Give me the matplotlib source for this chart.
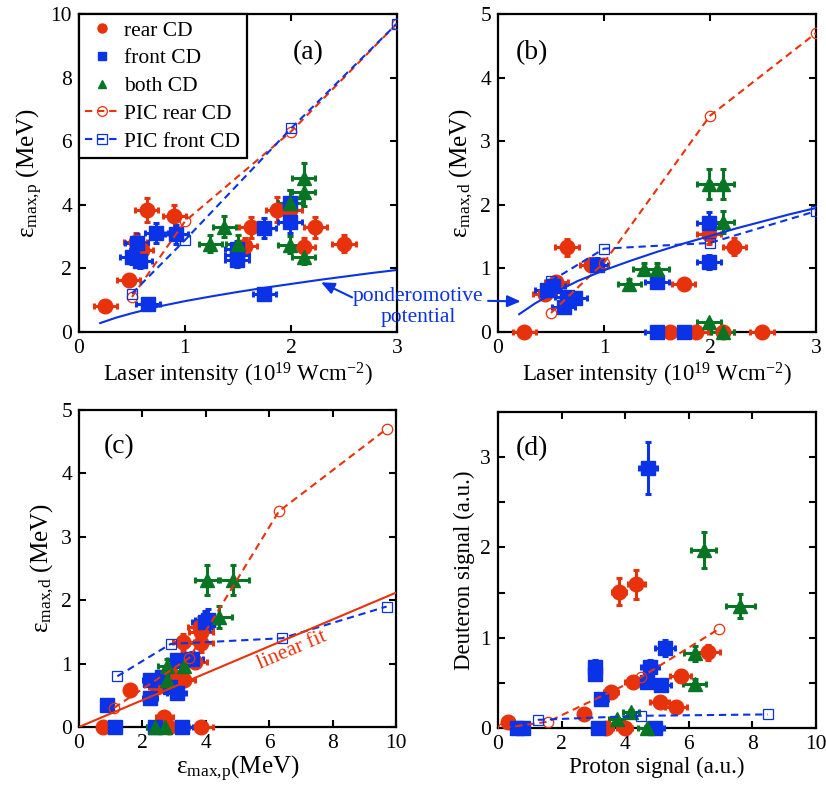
import matplotlib.pyplot as plt
from matplotlib.lines import Line2D
import numpy as np

plt.rcParams['font.family'] = ['Liberation Serif', 'DejaVu Serif']
plt.rcParams['mathtext.fontset'] = 'custom'
plt.rcParams['mathtext.rm'] = 'Liberation Serif'
plt.rcParams['mathtext.it'] = 'Liberation Serif:italic'

RED = '#e8320c'
BLUE = '#0a32e6'
GREEN = '#087525'

# (a) laser intensity vs max proton energy
rear_a_x = [0.25, 0.47, 0.535, 0.59, 0.64, 0.90, 1.57, 1.62, 1.87, 1.99, 2.12, 2.23, 2.50]
rear_a_y = [0.82, 1.63, 2.83, 2.57, 3.83, 3.64, 2.70, 3.29, 3.85, 3.85, 2.68, 3.29, 2.78]
front_a_x = [0.50, 0.545, 0.576, 0.65, 0.73, 0.92, 1.49, 1.49, 1.49, 1.75, 1.75, 1.99, 1.99]
front_a_y = [2.36, 2.80, 2.24, 0.89, 3.12, 3.07, 2.60, 2.42, 2.26, 3.27, 1.18, 4.06, 3.46]
both_a_x = [1.24, 1.37, 1.50, 1.99, 1.99, 2.12, 2.12, 2.12]
both_a_y = [2.78, 3.31, 2.78, 4.06, 2.75, 4.83, 4.41, 2.36]

# (b) laser intensity vs max deuteron energy
rear_b_x = [0.25, 0.44, 0.55, 0.65, 0.88, 1.62, 1.75, 1.87, 1.99, 2.12, 2.23, 2.49]
rear_b_y = [0.0, 0.60, 0.79, 1.33, 1.06, 0.0, 0.75, 0.0, 1.54, 0.0, 1.34, 0.0]
front_b_x = [0.46, 0.52, 0.62, 0.65, 0.73, 0.93, 1.50, 1.50, 1.75, 1.99, 1.99]
front_b_y = [0.66, 0.73, 0.39, 0.55, 0.53, 1.06, 0.79, 0.0, 0.0, 1.71, 1.10]
both_b_x = [1.24, 1.38, 1.50, 1.99, 2.12, 2.12, 1.99, 2.12]
both_b_y = [0.76, 0.99, 0.99, 2.33, 2.33, 1.73, 0.16, 0.0]

# (c) max proton energy vs max deuteron energy
rear_c_x = [0.77, 1.61, 2.45, 2.69, 2.84, 2.93, 3.29, 3.32, 3.66, 3.85, 3.85, 3.85, 3.83]
rear_c_y = [0.0, 0.58, 0.63, 0.15, 0.0, 0.82, 1.34, 0.74, 1.03, 1.32, 1.50, 0.0, 1.58]
front_c_x = [0.87, 1.14, 2.24, 2.24, 2.40, 2.61, 2.87, 3.08, 3.08, 3.26, 3.55, 3.97, 4.08]
front_c_y = [0.34, 0.0, 0.74, 0.46, 0.0, 0.79, 0.63, 1.05, 0.53, 0.0, 1.07, 1.66, 1.69]
both_c_x = [2.40, 2.71, 2.77, 2.77, 3.32, 4.05, 4.87, 4.40]
both_c_y = [0.0, 0.0, 0.74, 0.97, 0.97, 2.32, 2.32, 1.74]

# (d) proton signal vs deuteron signal
rear_d_x = [0.32, 2.71, 3.40, 3.55, 3.80, 3.99, 4.25, 4.35, 5.08, 5.60, 5.74, 6.60]
rear_d_y = [0.07, 0.16, 0.0, 0.40, 1.51, 0.0, 0.51, 1.59, 0.29, 0.23, 0.58, 0.84]
front_d_x = [0.59, 0.80, 3.04, 3.04, 3.15, 3.25, 4.69, 4.71, 4.77, 4.93, 5.13, 5.26]
front_d_y = [0.0, 0.0, 0.68, 0.60, 0.0, 0.32, 0.51, 2.88, 0.68, 0.0, 0.48, 0.89]
both_d_x = [3.73, 4.18, 4.70, 6.18, 6.21, 6.47, 7.62]
both_d_y = [0.10, 0.18, 0.0, 0.49, 0.83, 1.97, 1.35]

# PIC simulations
pic_I = [0.5, 1.0, 2.0, 3.0]
pic_rear_p = [1.10, 3.48, 6.30, 9.70]
pic_front_p = [1.21, 2.89, 6.40, 9.70]
pic_rear_d = [0.30, 1.09, 3.40, 4.70]
pic_front_d = [0.80, 1.31, 1.40, 1.90]
pic_rear_sig_x = [0.17, 1.58, 4.49, 6.96]
pic_rear_sig_y = [0.0, 0.07, 0.56, 1.10]
pic_front_sig_x = [1.25, 4.49, 8.48]
pic_front_sig_y = [0.09, 0.135, 0.15]

# ponderomotive potential
pond_I = [0.2, 0.35, 0.5, 0.75, 1.0, 1.25, 1.5, 1.75, 2.0, 2.25, 2.5, 2.75, 3.0]
pond_E = [0.28, 0.45, 0.59, 0.80, 0.97, 1.12, 1.26, 1.39, 1.51, 1.63, 1.74, 1.85, 1.95]

# linear fit in (c)
fit_x = [0.0, 10.0]
fit_y = [0.0, 2.12]

fig = plt.figure(figsize=(8.26, 7.99), dpi=100)
axa = fig.add_axes([0.0956, 0.5845, 0.385, 0.398])
axb = fig.add_axes([0.6029, 0.5845, 0.385, 0.398])
axc = fig.add_axes([0.0956, 0.0901, 0.384, 0.3968])
axd = fig.add_axes([0.6029, 0.0889, 0.385, 0.3955])

MS = 10.5


def data(ax, x, y, color, marker, xe, ye, relx=False):
    x = np.array(x)
    y = np.array(y)
    xerr = xe * x if relx else np.full(len(x), xe)
    ax.errorbar(x, y, xerr=xerr, yerr=ye * y, fmt=marker, color=color, ms=MS,
                elinewidth=2.2, capsize=2.5, capthick=2.2, clip_on=False, zorder=3)


def pic(ax, x, y, color, marker):
    ax.plot(x, y, ls='--', dashes=(3.5, 2.3), lw=1.5, color=color, marker=marker,
            ms=7.5, mfc='none', mew=0.9, zorder=4)


def style(ax):
    ax.tick_params(direction='in', top=True, right=True, length=5, width=1.5,
                   labelsize=15.5, pad=5)
    for s in ax.spines.values():
        s.set_linewidth(1.6)


eps_p = 'ε$_{\\mathrm{max{,}p}}$'
eps_d = 'ε$_{\\mathrm{max{,}d}}$'
xlab_I = 'Laser intensity (10$^{19}$ Wcm$^{-2}$)'
arrow = dict(arrowstyle='-|>,head_length=0.8,head_width=0.35', color=BLUE, lw=1.5)

# (a)
data(axa, rear_a_x, rear_a_y, RED, 'o', 0.11, 0.1)
data(axa, front_a_x, front_a_y, BLUE, 's', 0.11, 0.1)
data(axa, both_a_x, both_a_y, GREEN, '^', 0.11, 0.1)
pic(axa, pic_I, pic_rear_p, RED, 'o')
pic(axa, pic_I, pic_front_p, BLUE, 's')
axa.plot(pond_I, pond_E, color=BLUE, lw=1.5, zorder=2)
axa.set_xlim(0, 3)
axa.set_ylim(0, 10)
axa.set_xticks([0, 1, 2, 3])
axa.set_yticks([0, 2, 4, 6, 8, 10])
axa.set_xlabel(xlab_I, fontsize=16.5, labelpad=2)
axa.set_ylabel(eps_p + ' (MeV)', fontsize=18, labelpad=4)
axa.text(0.72, 0.88, '(a)', transform=axa.transAxes, fontsize=20, ha='center', va='center')
axa.annotate('', xy=(2.26, 1.6), xytext=(2.6, 1.05), arrowprops=arrow,
             annotation_clip=False)

handles = [
    Line2D([], [], ls='none', marker='o', color=RED, ms=6.5),
    Line2D([], [], ls='none', marker='s', color=BLUE, ms=6),
    Line2D([], [], ls='none', marker='^', color=GREEN, ms=6),
    Line2D([], [], ls='--', dashes=(3.5, 2.3), lw=1.5, color=RED, marker='o',
           ms=7, mfc='none', mew=0.9),
    Line2D([], [], ls='--', dashes=(3.5, 2.3), lw=1.5, color=BLUE, marker='s',
           ms=7, mfc='none', mew=0.9),
]
labels = ['rear CD', 'front CD', 'both CD', 'PIC rear CD', 'PIC front CD']
leg = axa.legend(handles, labels, loc='upper left', fontsize=15.5,
                 frameon=True, fancybox=False, edgecolor='black', handlelength=1.5,
                 handletextpad=0.3, labelspacing=0.36, borderpad=0.3, borderaxespad=0)
leg.get_frame().set_linewidth(1.6)
leg.get_frame().set_alpha(1)
style(axa)

# (b)
data(axb, rear_b_x, rear_b_y, RED, 'o', 0.11, 0.1)
data(axb, front_b_x, front_b_y, BLUE, 's', 0.11, 0.1)
data(axb, both_b_x, both_b_y, GREEN, '^', 0.11, 0.1)
pic(axb, pic_I, pic_rear_d, RED, 'o')
pic(axb, pic_I, pic_front_d, BLUE, 's')
axb.plot(pond_I, pond_E, color=BLUE, lw=1.5, zorder=5)
axb.set_xlim(0, 3)
axb.set_ylim(0, 5)
axb.set_xticks([0, 1, 2, 3])
axb.set_yticks([0, 1, 2, 3, 4, 5])
axb.set_xlabel(xlab_I, fontsize=16.5, labelpad=2)
axb.set_ylabel(eps_d + ' (MeV)', fontsize=18, labelpad=4)
axb.text(0.107, 0.88, '(b)', transform=axb.transAxes, fontsize=20, ha='center', va='center')
axb.annotate('', xy=(0.24, 0.48), xytext=(-0.12, 0.49), arrowprops=arrow,
             annotation_clip=False)
style(axb)

fig.text(0.506, 0.616, 'ponderomotive\npotential', color=BLUE, fontsize=15.5,
         ha='center', va='center', linespacing=1.15)

# (c)
data(axc, rear_c_x, rear_c_y, RED, 'o', 0.1, 0.1, relx=True)
data(axc, front_c_x, front_c_y, BLUE, 's', 0.1, 0.1, relx=True)
data(axc, both_c_x, both_c_y, GREEN, '^', 0.1, 0.1, relx=True)
pic(axc, pic_rear_p, pic_rear_d, RED, 'o')
pic(axc, pic_front_p, pic_front_d, BLUE, 's')
axc.plot(fit_x, fit_y, color=RED, lw=1.5, zorder=5)
axc.set_xlim(0, 10)
axc.set_ylim(0, 5)
axc.set_xticks([0, 2, 4, 6, 8, 10])
axc.set_yticks([0, 1, 2, 3, 4, 5])
axc.set_xlabel(eps_p + '(MeV)', fontsize=18, labelpad=1)
axc.set_ylabel(eps_d + ' (MeV)', fontsize=18, labelpad=4)
axc.text(0.126, 0.884, '(c)', transform=axc.transAxes, fontsize=20, ha='center', va='center')
axc.text(6.72, 1.2, 'linear fit', color=RED, fontsize=15.5, rotation=23,
         ha='center', va='center', rotation_mode='anchor')
style(axc)

# (d)
data(axd, rear_d_x, rear_d_y, RED, 'o', 0.06, 0.1, relx=True)
data(axd, front_d_x, front_d_y, BLUE, 's', 0.06, 0.1, relx=True)
data(axd, both_d_x, both_d_y, GREEN, '^', 0.06, 0.1, relx=True)
pic(axd, pic_rear_sig_x, pic_rear_sig_y, RED, 'o')
pic(axd, pic_front_sig_x, pic_front_sig_y, BLUE, 's')
axd.set_xlim(0, 10)
axd.set_ylim(0, 3.5)
axd.set_xticks([0, 2, 4, 6, 8, 10])
axd.set_yticks([0, 0.5, 1, 1.5, 2, 2.5, 3, 3.5])
axd.set_yticklabels(['0', '', '1', '', '2', '', '3', ''])
axd.set_xlabel('Proton signal (a.u.)', fontsize=16.5, labelpad=2)
axd.set_ylabel('Deuteron signal (a.u.)', fontsize=16.5, labelpad=4)
axd.text(0.107, 0.884, '(d)', transform=axd.transAxes, fontsize=20, ha='center', va='center')
style(axd)

fig.savefig('out.png', dpi=100)
